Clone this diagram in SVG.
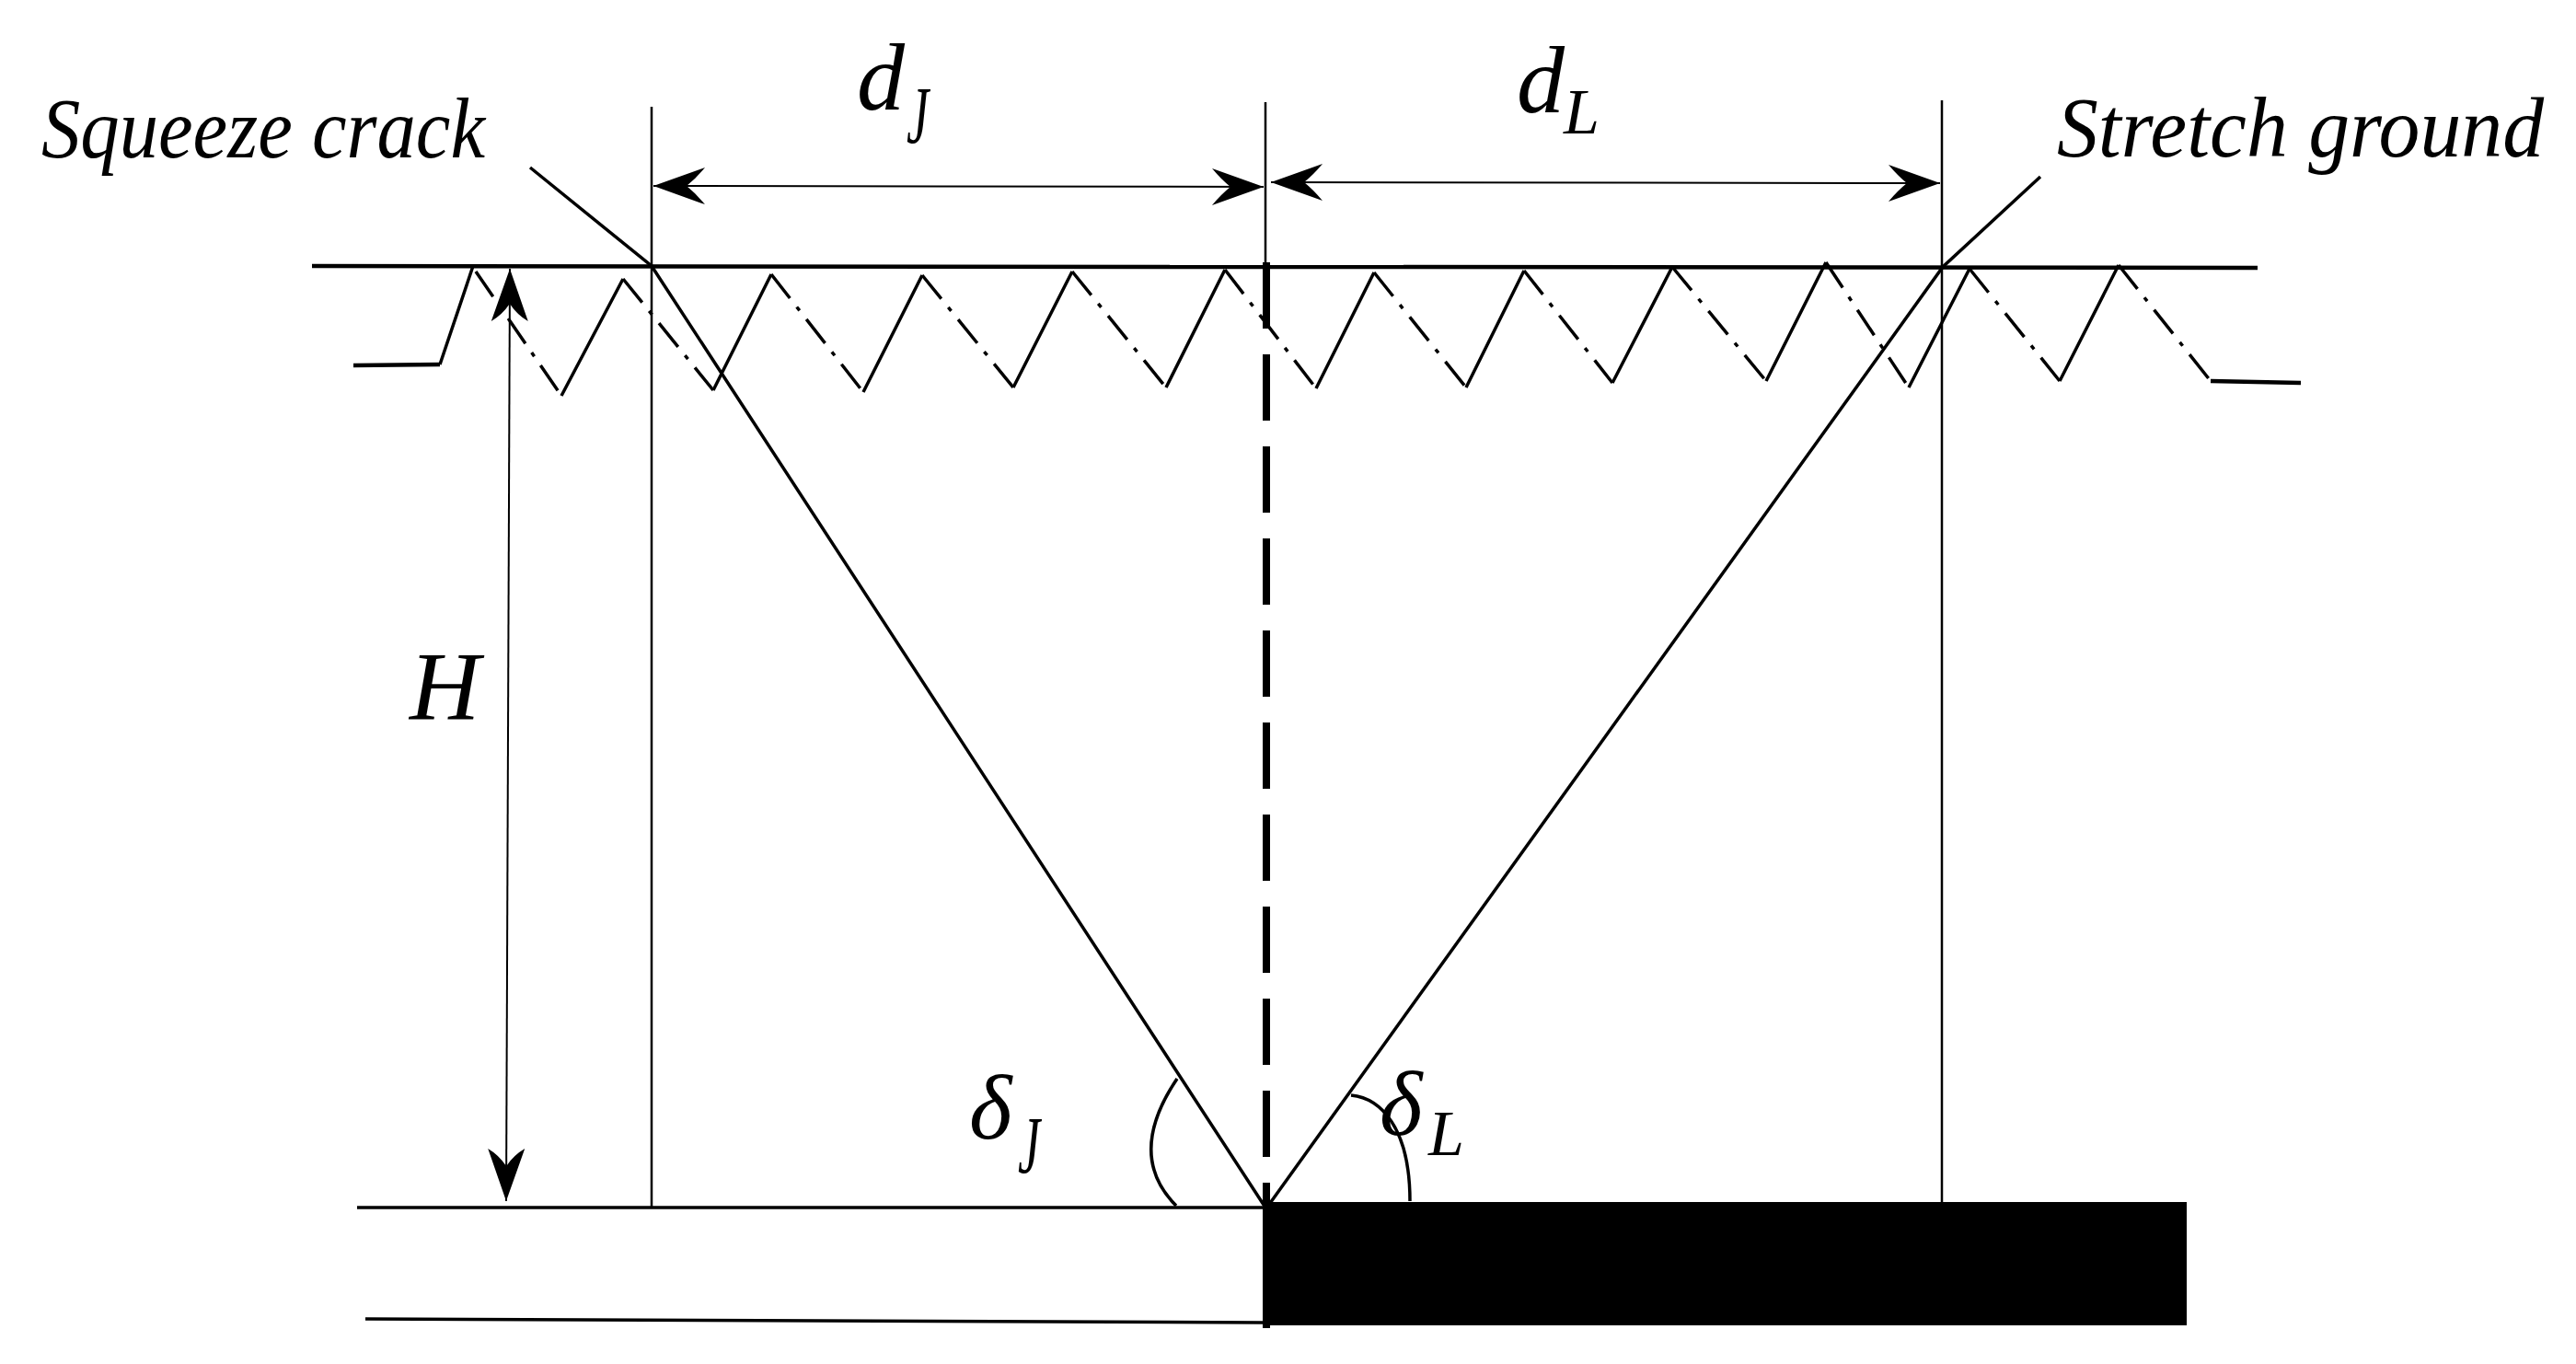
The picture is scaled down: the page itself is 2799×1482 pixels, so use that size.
<svg xmlns="http://www.w3.org/2000/svg" width="2799" height="1482" viewBox="0 0 2799 1482">
<style>
.l{fill:none;stroke:#000;stroke-width:3.5;stroke-linecap:butt;stroke-linejoin:miter}
.h{stroke-width:4.5}
.t{stroke-width:2.5}
.a{stroke-width:2}
.dd{fill:none;stroke:#000;stroke-width:3.5;stroke-dasharray:33 12 5 12}
.c{fill:none;stroke:#000;stroke-width:8;stroke-dasharray:72 28}
text{font-family:"Liberation Serif","Times New Roman",serif;font-style:italic;fill:#000}
</style>
<defs>
<marker id="ah" markerUnits="userSpaceOnUse" viewBox="-60 -24 62 48" markerWidth="62" markerHeight="48" refX="0" refY="0" orient="auto-start-reverse"><path d="M0 0L-56 -20Q-46 -8 -36 0Q-46 8 -56 20Z" fill="#000"/></marker>
<marker id="av" markerUnits="userSpaceOnUse" viewBox="-60 -24 62 48" markerWidth="62" markerHeight="48" refX="0" refY="0" orient="auto-start-reverse"><path d="M0 0L-57 -20Q-50 -8 -38 0Q-50 8 -57 20Z" fill="#000"/></marker>
</defs>
<rect width="2799" height="1482" fill="#fff"/>
<g id="ground">
<path class="l h" d="M339 289L2453 291"/>
<path class="l h" d="M384 397L478 396"/>
<path class="l h" d="M2402 414L2500 416"/>
</g>
<g id="zigzag-solid">
<path class="l" d="M478 396L514 289M610 430L677 303M775 424L838 298M938 426L1002 299M1101 421L1165 295M1267 421L1331 293M1430 422L1493 296M1593 421L1656 294M1752 416L1817 290M1919 414L1984 285M2074 421L2140 292M2238 414L2302 288"/>
</g>
<g id="zigzag-dashdot">
<path class="dd" d="M517 295L610 430"/>
<path class="dd" d="M677 303L775 424"/>
<path class="dd" d="M838 298L938 426"/>
<path class="dd" d="M1002 299L1101 421"/>
<path class="dd" d="M1165 295L1267 421"/>
<path class="dd" d="M1331 293L1430 422"/>
<path class="dd" d="M1493 296L1593 421"/>
<path class="dd" d="M1656 294L1752 416"/>
<path class="dd" d="M1817 290L1919 414"/>
<path class="dd" d="M1984 285L2074 421"/>
<path class="dd" d="M2140 292L2238 414"/>
<path class="dd" d="M2302 288L2402 414"/>
</g>
<g id="verticals">
<path class="l t" d="M708 116V1312"/>
<path class="l t" d="M1375 111V285"/>
<path class="l t" d="M2110 109V1306"/>
</g>
<g id="seam">
<rect x="1372" y="1306" width="1004" height="134" fill="#000"/>
<path class="c" d="M1376 285V1443"/>
<rect x="1372" y="1285" width="8" height="158" fill="#000"/>
</g>
<g id="coal-roof-floor">
<path class="l" d="M388 1312H1372"/>
<path class="l" d="M397 1433L1372 1437"/>
</g>
<g id="connectors">
<path class="l" d="M576 182L708 289L1375 1312"/>
<path class="l" d="M2217 192L2111 290L1378 1310"/>
<path class="l a" d="M710 202L1373 203" marker-start="url(#ah)" marker-end="url(#ah)"/>
<path class="l a" d="M1381 198L2108 199" marker-start="url(#ah)" marker-end="url(#ah)"/>
<path class="l a" d="M554 292L550 1305" marker-start="url(#av)" marker-end="url(#av)"/>
<path class="l" d="M1279 1172Q1223 1255 1278 1310"/>
<path class="l" d="M1468 1190C1500 1193 1532 1225 1532 1305"/>
</g>
<g id="labels">
<text x="45" y="171" font-size="93" textLength="482" lengthAdjust="spacingAndGlyphs">Squeeze crack</text>
<text x="2235" y="170" font-size="93" textLength="529" lengthAdjust="spacingAndGlyphs">Stretch ground</text>
<text x="931" y="119" font-size="104">d</text>
<text x="985" y="155" font-size="88" textLength="24" lengthAdjust="spacingAndGlyphs">J</text>
<text x="1648" y="122" font-size="104">d</text>
<text x="1699" y="145" font-size="70">L</text>
<text x="445" y="781" font-size="106">H</text>
<text x="1053" y="1237" font-size="100">δ</text>
<text x="1106" y="1274" font-size="88" textLength="24" lengthAdjust="spacingAndGlyphs">J</text>
<text x="1499" y="1233" font-size="100">δ</text>
<text x="1552" y="1255" font-size="70">L</text>
</g>
</svg>
